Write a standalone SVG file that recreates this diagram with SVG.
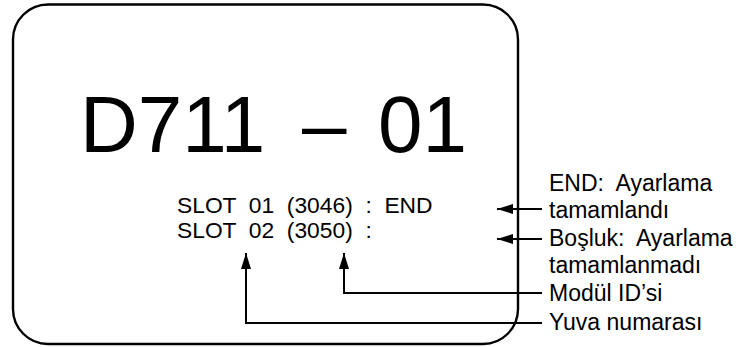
<svg xmlns="http://www.w3.org/2000/svg" width="746" height="347" viewBox="0 0 746 347">
<style>
text{font-family:"Liberation Sans",Arial,sans-serif;fill:#000;white-space:pre}
.big{font-size:80px}
.mid{font-size:22.8px}
.lab{font-size:23px}
.ln{fill:none;stroke:#000;stroke-width:2}
</style>
<defs>
<marker id="ah" viewBox="0 0 16 10" refX="16" refY="5" markerWidth="16" markerHeight="10" markerUnits="userSpaceOnUse" orient="auto">
<path d="M0,0 L16,5 L0,10 Z" fill="#000"/>
</marker>
</defs>
<rect width="746" height="347" fill="#fff"/>
<g id="display">
<rect x="13" y="4.5" width="505" height="339.5" rx="35" ry="35" fill="none" stroke="#000" stroke-width="2.4"/>
<text class="big" y="152"><tspan x="80">D711</tspan><tspan x="302">–</tspan><tspan x="378">01</tspan></text>
<text class="mid" xml:space="preserve" x="177" y="212.5">SLOT  01  (3046)  :  END</text>
<text class="mid" xml:space="preserve" x="177" y="237.5">SLOT  02  (3050)  :</text>
</g>
<g id="labels">
<text class="lab" xml:space="preserve" x="549" y="191">END:  Ayarlama</text>
<text class="lab" x="549" y="218">tamamlandı</text>
<text class="lab" xml:space="preserve" x="549" y="246">Boşluk:  Ayarlama</text>
<text class="lab" x="549" y="273">tamamlanmadı</text>
<text class="lab" x="549" y="301">Modül ID’si</text>
<text class="lab" x="549" y="330">Yuva numarası</text>
</g>
<g id="connectors">
<path class="ln" d="M542,209 H497" marker-end="url(#ah)"/>
<path class="ln" d="M542,239 H497" marker-end="url(#ah)"/>
<path class="ln" d="M542,293 H344 V253" marker-end="url(#ah)"/>
<path class="ln" d="M542,323 H246 V253" marker-end="url(#ah)"/>
</g>
</svg>
